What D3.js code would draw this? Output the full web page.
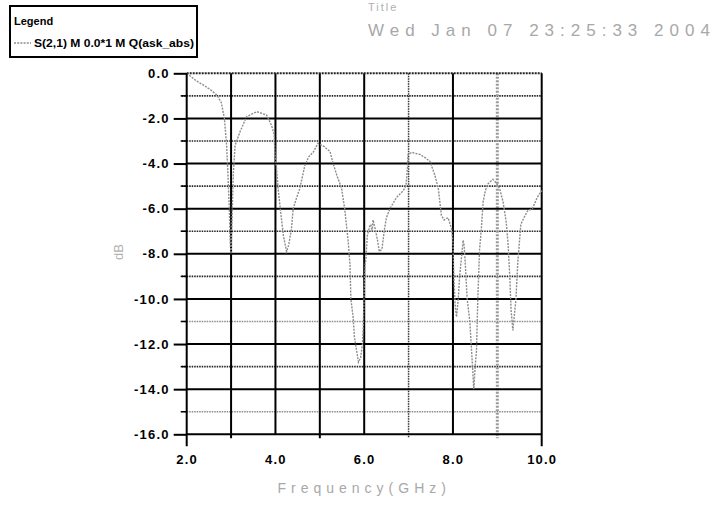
<!DOCTYPE html>
<html>
<head>
<meta charset="utf-8">
<script src="https://cdn.jsdelivr.net/npm/d3@7"></script>
<style>
  html, body { margin: 0; padding: 0; background: #fff; }
  svg { display: block; }
  text { font-family: "Liberation Sans", Arial, sans-serif; }
</style>
</head>
<body>
<svg id="chart" width="719" height="505"></svg>
<script>
// Swept response of the filter, dB vs frequency in GHz
const freqGHz = [
  2.0, 2.1, 2.22, 2.4, 2.55, 2.68, 2.78, 2.85, 2.9, 2.93, 2.96, 2.98, 3.0, 3.02, 3.05,
  3.09, 3.2, 3.35, 3.58, 3.8, 3.91, 3.97, 3.99, 4.02, 4.06, 4.12, 4.18, 4.25, 4.3, 4.36,
  4.4, 4.48, 4.55, 4.66, 4.75, 4.85, 4.96, 5.1, 5.23, 5.3, 5.38, 5.49, 5.56, 5.64, 5.68,
  5.7, 5.75, 5.78, 5.83, 5.87, 5.92, 5.96, 5.98, 6.0, 6.02, 6.04, 6.07, 6.12, 6.15, 6.18,
  6.2, 6.26, 6.3, 6.34, 6.4, 6.45, 6.5, 6.58, 6.73, 6.88, 6.94, 6.97, 6.99, 7.07, 7.15,
  7.26, 7.38, 7.48, 7.59, 7.67, 7.74, 7.8, 7.89, 7.97, 8.0, 8.02, 8.05, 8.08, 8.12, 8.15,
  8.2, 8.23, 8.25, 8.28, 8.32, 8.38, 8.42, 8.45, 8.47, 8.5, 8.53, 8.56, 8.6, 8.64, 8.68,
  8.73, 8.79, 8.9, 8.97, 9.05, 9.13, 9.2, 9.24, 9.28, 9.31, 9.35, 9.38, 9.42, 9.46, 9.53,
  9.6, 9.68, 9.79, 9.9, 10.0
];
const responseDb = [
  0.0, -0.15, -0.34, -0.55, -0.75, -0.96, -1.3, -2.0, -3.2, -4.5, -6.0, -7.5, -8.0, -6.5, -4.5,
  -3.2, -2.6, -1.92, -1.7, -1.85, -2.3, -2.7, -3.6, -4.1, -5.1, -6.2, -7.2, -7.9, -7.6, -6.9,
  -6.0, -5.5, -5.1, -4.1, -3.7, -3.5, -3.1, -3.25, -3.47, -4.0, -4.5, -5.1, -6.0, -7.46, -8.5,
  -10.0, -10.8, -11.7, -12.3, -12.8, -12.6, -12.0, -11.2, -9.6, -8.5, -8.2, -7.2, -6.8, -6.7, -7.0,
  -6.5, -7.0, -7.4, -7.9, -7.8, -7.0, -6.4, -6.0, -5.5, -5.2, -5.0, -4.3, -3.6, -3.5, -3.55,
  -3.6, -3.75, -3.9, -4.5, -5.1, -6.3, -6.5, -6.4, -6.9, -7.5, -9.0, -10.3, -10.8, -10.0, -9.0,
  -8.0, -7.4, -7.6, -8.5, -10.0, -11.0, -12.3, -13.3, -14.0, -13.0, -12.3, -10.0, -7.8, -6.9, -5.7,
  -5.2, -4.9, -4.7, -4.85, -5.1, -5.7, -6.6, -7.5, -9.0, -10.5, -11.4, -10.8, -10.0, -8.4, -6.7,
  -6.4, -6.1, -6.0, -5.5, -5.2
];

const xTickValues = [2, 4, 6, 8, 10];
const xTickLabels = ["2.0", "4.0", "6.0", "8.0", "10.0"];
const yTickValues = [0, -2, -4, -6, -8, -10, -12, -14, -16];
const yTickLabels = ["0.0", "-2.0", "-4.0", "-6.0", "-8.0", "-10.0", "-12.0", "-14.0", "-16.0"];
const xMinorValues = [3, 5, 7, 9];
const yMinorValues = [-1, -3, -5, -7, -9, -11, -13, -15];

const seriesName = "S(2,1) M 0.0*1 M Q(ask_abs)";
const timestamp = "Wed Jan 07 23:25:33 2004";

const svg = d3.select("#chart");
svg.append("rect").attr("width", 719).attr("height", 505).attr("fill", "#fff");

const x = d3.scaleLinear().domain([2, 10]).range([186.7, 541.7]);
const y = d3.scaleLinear().domain([-16, 0]).range([434.3, 73.3]);

const grid = svg.append("g");

// minor horizontal grid (odd dB)
grid.selectAll("line.hmin").data(yMinorValues).join("line")
  .attr("x1", x(2) - 5).attr("x2", x(10))
  .attr("y1", d => y(d)).attr("y2", d => y(d))
  .attr("stroke", d => (d === -11 || d === -15) ? "#8a8a8a" : "#222")
  .attr("stroke-width", 1.6)
  .attr("stroke-dasharray", "1.5,1");

// minor vertical grid (odd GHz)
grid.selectAll("line.vmin").data(xMinorValues).join("line")
  .attr("x1", d => x(d)).attr("x2", d => x(d))
  .attr("y1", y(0)).attr("y2", y(-16) + 4)
  .attr("stroke", d => d === 9 ? "#9a9a9a" : (d === 7 ? "#333" : "#000"))
  .attr("stroke-width", d => d === 9 ? 3 : (d === 7 ? 1.5 : 2))
  .attr("stroke-dasharray", d => d === 9 ? "2,1.5" : (d === 7 ? "1.5,1" : null));

// major horizontal grid
grid.selectAll("line.hmaj").data(yTickValues.filter(d => d !== 0 && d !== -16)).join("line")
  .attr("x1", x(2)).attr("x2", x(10))
  .attr("y1", d => y(d)).attr("y2", d => y(d))
  .attr("stroke", "#000").attr("stroke-width", 2);

// major vertical grid
grid.selectAll("line.vmaj").data(xTickValues.filter(d => d !== 2 && d !== 10)).join("line")
  .attr("x1", d => x(d)).attr("x2", d => x(d))
  .attr("y1", y(0)).attr("y2", y(-16))
  .attr("stroke", "#000").attr("stroke-width", 2);

// top border, dotted
svg.append("line")
  .attr("x1", x(2)).attr("x2", x(10)).attr("y1", y(0)).attr("y2", y(0))
  .attr("stroke", "#222").attr("stroke-width", 2).attr("stroke-dasharray", "2,1");
// right border
svg.append("line")
  .attr("x1", x(10)).attr("x2", x(10)).attr("y1", y(0)).attr("y2", y(-16) + 12)
  .attr("stroke", "#000").attr("stroke-width", 2);

// response trace
const line = d3.line().x(d => x(d[0])).y(d => y(d[1]));
svg.append("path")
  .datum(d3.zip(freqGHz, responseDb))
  .attr("d", line)
  .attr("fill", "none")
  .attr("stroke", "#8c8c8c")
  .attr("stroke-width", 1.4)
  .attr("stroke-dasharray", "2,1.2");

// axes
const yAxis = d3.axisLeft(y)
  .tickValues(yTickValues)
  .tickFormat((d, i) => yTickLabels[i])
  .tickSizeOuter(0).tickSize(13).tickPadding(4);
const gy = svg.append("g").attr("transform", `translate(${x(2)},0)`).call(yAxis);
gy.select(".domain").attr("stroke", "#000").attr("stroke-width", 2)
  .attr("d", `M0,${y(0)}V${y(-16) + 12}`);
gy.selectAll(".tick line").attr("stroke", "#000").attr("stroke-width", 2);
gy.selectAll(".tick text")
  .attr("fill", "#000").style("font-size", "13px").style("font-weight", "bold")
  .style("letter-spacing", "1.2px");

// short minor ticks on the left axis
svg.selectAll("line.ymt").data(yMinorValues).join("line")
  .attr("x1", x(2) - 6).attr("x2", x(2))
  .attr("y1", d => y(d)).attr("y2", d => y(d))
  .attr("stroke", "#000").attr("stroke-width", 1.5);

const xAxis = d3.axisBottom(x)
  .tickValues(xTickValues)
  .tickFormat((d, i) => xTickLabels[i])
  .tickSizeOuter(0).tickSize(0).tickPadding(20);
const gx = svg.append("g").attr("transform", `translate(0,${y(-16)})`).call(xAxis);
gx.select(".domain").attr("stroke", "#000").attr("stroke-width", 2)
  .attr("d", `M${x(2)},0H${x(10)}`);
gx.selectAll(".tick text")
  .attr("fill", "#000").style("font-size", "13px").style("font-weight", "bold")
  .style("letter-spacing", "1.2px");

// axis titles
svg.append("text")
  .attr("x", (x(2) + x(10)) / 2).attr("y", 493)
  .attr("text-anchor", "middle")
  .attr("fill", "#a8a8a8").style("font-size", "14px").style("letter-spacing", "5px")
  .text("Frequency(GHz)");
svg.append("text")
  .attr("transform", "translate(123,252) rotate(-90)")
  .attr("text-anchor", "middle")
  .attr("fill", "#b0b0b0").style("font-size", "13px")
  .text("dB");

// header text
svg.append("text")
  .attr("x", 368).attr("y", 11)
  .attr("fill", "#b0b0b0").style("font-size", "11px").style("letter-spacing", "2px")
  .text("Title");
svg.append("text")
  .attr("x", 368).attr("y", 36)
  .attr("fill", "#a8a8a8").style("font-size", "17px").style("letter-spacing", "6px")
  .text(timestamp);

// legend
const lg = svg.append("g");
lg.append("rect").attr("x", 10).attr("y", 6).attr("width", 187).attr("height", 51)
  .attr("fill", "#fff").attr("stroke", "#000").attr("stroke-width", 2);
lg.append("text").attr("x", 14).attr("y", 25)
  .attr("fill", "#000").style("font-size", "11px").style("font-weight", "bold")
  .text("Legend");
lg.append("line").attr("x1", 14).attr("x2", 31).attr("y1", 43).attr("y2", 43)
  .attr("stroke", "#8c8c8c").attr("stroke-width", 1.4).attr("stroke-dasharray", "2,1.2");
lg.append("text").attr("x", 34).attr("y", 47)
  .attr("fill", "#000").style("font-size", "10px").style("font-weight", "bold")
  .attr("textLength", 160).attr("lengthAdjust", "spacingAndGlyphs")
  .text(seriesName);
</script>
</body>
</html>
